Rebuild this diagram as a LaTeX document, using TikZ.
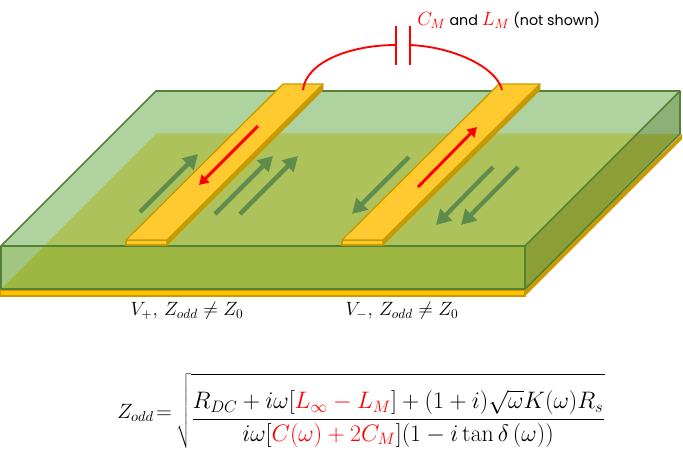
\documentclass[tikz,border=0pt]{standalone}
\usepackage[no-math]{fontspec}
\setmainfont{Poppins}
\usetikzlibrary{arrows.meta}
\tikzset{
 x=0.75pt,y=-0.75pt,
 edge/.style={draw=edgegreen,line width=1.3pt,line join=round},
 stripface/.style={fill=stripyellow,draw=stripdark,line width=1pt,line join=round},
 stripside/.style={fill=stripdark,draw=stripdark,line width=0.5pt,line join=round},
 greenarrow/.style={draw=arrowgreen,line width=3.2pt,-{Triangle[length=11pt,width=12pt]}},
 redarrow/.style={draw=red,line width=2.2pt,-{Triangle[length=7pt,width=8pt]}},
 wire/.style={draw=red,line width=1.4pt},
 lab/.style={inner sep=0pt,font=\fontsize{13.8}{16}\selectfont,text=black}
}
\definecolor{edgegreen}{HTML}{548235}
\definecolor{stripyellow}{HTML}{FFCA2F}
\definecolor{stripdark}{HTML}{C79A00}
\definecolor{arrowgreen}{HTML}{5F8B4C}
\definecolor{toplight}{HTML}{AED39E}
\definecolor{inner}{HTML}{AEC25C}
\definecolor{frontc}{HTML}{9DB742}
\definecolor{sidec}{HTML}{8D9F38}
\definecolor{cornerc}{HTML}{8DAF78}
\definecolor{frontlight}{HTML}{A0C680}
\definecolor{groundc}{HTML}{FFC000}
\begin{document}
\begin{tikzpicture}
\useasboundingbox (0,0) rectangle (683,455);
\fill[white] (0,0) rectangle (683,455);
% ground plane
\fill[stripdark] (525,296) -- (682,139) -- (682,134) -- (525,289) -- cycle;
\fill[groundc,draw=stripdark,line width=1pt] (0,290) rectangle (525,296);
% substrate
\fill[toplight] (1,246) -- (156,91) -- (680,91) -- (525,246) -- cycle;
\fill[inner] (44,246) -- (156,134) -- (637,134) -- (525,246) -- cycle;
\draw[color=inner!80!toplight,line width=0.8pt] (156,134) -- (637,134);
\fill[frontc] (1,246) rectangle (525,289);
\fill[frontlight] (1,246) -- (44,246) -- (1,289) -- cycle;
\fill[sidec] (525,246) -- (680,91) -- (680,134) -- (525,289) -- cycle;
\fill[cornerc] (680,91) -- (680,134) -- (637,134) -- cycle;
\draw[edge] (1,246) -- (156,91) -- (680,91) -- (680,134) -- (525,289) -- (1,289) -- cycle;
\draw[edge] (1,246) -- (525,246) -- (680,91);
\draw[edge] (525,246) -- (525,289);
% strip one
\fill[stripside] (167,240) -- (323,84) -- (323,90) -- (167,245) -- cycle;
\draw[stripface] (126,240) rectangle (167,245);
\draw[stripface] (126,240) -- (283,84) -- (323,84) -- (167,240) -- cycle;
% strip two
\fill[stripside] (383,240) -- (540,84) -- (540,90) -- (383,245) -- cycle;
\draw[stripface] (342,240) rectangle (383,245);
\draw[stripface] (342,240) -- (499,84) -- (540,84) -- (383,240) -- cycle;
% current arrows
\coordinate (g1a) at (140,212); \coordinate (g1b) at (198,154);
\coordinate (g2a) at (215,214); \coordinate (g2b) at (273,156);
\coordinate (g3a) at (240,214); \coordinate (g3b) at (298,156);
\coordinate (g4a) at (409,157); \coordinate (g4b) at (352,214);
\coordinate (g5a) at (493,167); \coordinate (g5b) at (436,225);
\coordinate (g6a) at (518,167); \coordinate (g6b) at (461,225);
\draw[greenarrow] (g1a) -- (g1b);
\draw[greenarrow] (g2a) -- (g2b);
\draw[greenarrow] (g3a) -- (g3b);
\draw[greenarrow] (g4a) -- (g4b);
\draw[greenarrow] (g5a) -- (g5b);
\draw[greenarrow] (g6a) -- (g6b);
\coordinate (r1a) at (258,126); \coordinate (r1b) at (199,185);
\coordinate (r2a) at (418,187); \coordinate (r2b) at (477,127);
\draw[redarrow] (r1a) -- (r1b);
\draw[redarrow] (r2a) -- (r2b);
% capacitor
\coordinate (wl) at (303,90); \coordinate (pl) at (396,45);
\coordinate (pr) at (410,45); \coordinate (wr) at (502,90);
\draw[wire] (wl) .. controls (306,62) and (350,45) .. (pl);
\draw[wire] (wr) .. controls (497,68) and (455,47) .. (pr);
\draw[wire] (396,26) -- (396,65);
\draw[wire] (410,26) -- (410,65);
% labels
\node[lab,anchor=west] (cap) at (417,20) {\fontsize{14}{16}\selectfont$\color{red}C_M$\fontsize{10.7}{13}\selectfont{} and \fontsize{14}{16}\selectfont$\color{red}L_M$\fontsize{10.7}{13}\selectfont{} (not shown)};
\node[lab,anchor=center] (vp) at (187,311) {$V_{+},\,Z_{odd}\neq Z_0$};
\node[lab,anchor=center] (vm) at (402,311) {$V_{-},\,Z_{odd}\neq Z_0$};
\node[inner sep=0pt,anchor=west,font=\fontsize{14.4}{18}\selectfont,scale=1.08] (eql) at (117,413) {$\displaystyle Z_{odd}\!=$};
\node[inner sep=0pt,anchor=west,font=\fontsize{17.28}{22}\selectfont,scale=1.035] (eq) at (176,411) {$\displaystyle \sqrt{\frac{\rule{0pt}{1.25em}R_{DC}+i\omega[\textcolor{red}{L_\infty-L_M}]+(1+i)\sqrt{\omega}K(\omega)R_s}{i\omega[\textcolor{red}{C(\omega)+2C_M}](1-i\tan\delta\,(\omega))}}$};
\end{tikzpicture}
\end{document}
